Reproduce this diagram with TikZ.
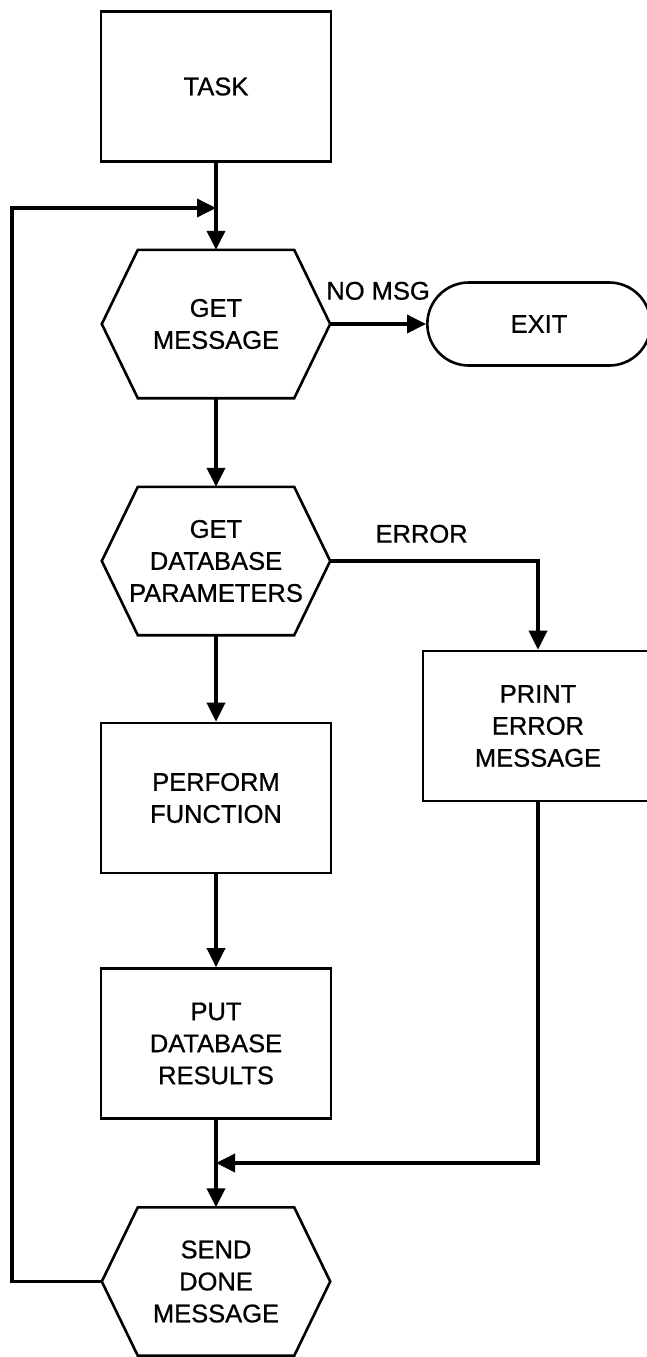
\documentclass[tikz,border=0pt]{standalone}
\usepackage{fontspec}
\setmainfont{Liberation Sans}[FakeBold=0.8]
\usetikzlibrary{arrows.meta, positioning, shapes.misc}

\begin{document}
\begin{tikzpicture}[
  x=1pt, y=-1pt,
  box/.style={rectangle, draw, line width=2.6pt, minimum width=230pt, minimum height=150pt, align=center, font=\fontsize{25.5}{32}\selectfont},
  hexbox/.style={rectangle, minimum width=228pt, minimum height=148pt, align=center, font=\fontsize{25.5}{32}\selectfont},
  endbox/.style={rounded rectangle, draw, line width=2.6pt, minimum width=230pt, minimum height=83pt, font=\fontsize{25.5}{32}\selectfont},
  tag/.style={font=\fontsize{25.5}{32}\selectfont},
  arrow/.style={-{Triangle[length=19pt, width=18pt]}, line width=3.6pt}
]

\useasboundingbox (0,0) rectangle (647,1357);

\node[box] (task) at (216, 86.5) {TASK};
\node[hexbox] (getmsg) at (216, 324) {GET\\MESSAGE};
\node[endbox] (exit) at (539, 324) {EXIT};
\node[hexbox] (getdb) at (216, 561) {GET\\DATABASE\\PARAMETERS};
\node[box] (printerr) at (538, 726) {PRINT\\ERROR\\MESSAGE};
\node[box] (perform) at (216, 798) {PERFORM\\FUNCTION};
\node[box] (putdb) at (216, 1043.5) {PUT\\DATABASE\\RESULTS};
\node[hexbox] (senddone) at (216, 1281.5) {SEND\\DONE\\MESSAGE};

% hexagon outlines
\foreach \n in {getmsg, getdb, senddone}
  \draw[line width=2.6pt] (\n.west) -- ([xshift=36pt]\n.north west) -- ([xshift=-36pt]\n.north east)
    -- (\n.east) -- ([xshift=-36pt]\n.south east) -- ([xshift=36pt]\n.south west) -- cycle;

\coordinate (loopin) at (216, 208);
\coordinate (merge) at (216, 1163);

\draw[arrow] (task) -- (getmsg);
\draw[arrow] (getmsg) -- node[tag, above=19pt] {NO MSG} (exit);
\draw[arrow] (getmsg) -- (getdb);
\draw[arrow] (getdb.east) -| node[tag, pos=0.22, above=13pt] {ERROR} (printerr.north);
\draw[arrow] (getdb) -- (perform);
\draw[arrow] (perform) -- (putdb);
\draw[arrow] (putdb) -- (senddone);
\draw[arrow] (printerr.south) |- (merge);
\draw[arrow] (senddone.west) -| (12, 208) -- (loopin);

\end{tikzpicture}
\end{document}
